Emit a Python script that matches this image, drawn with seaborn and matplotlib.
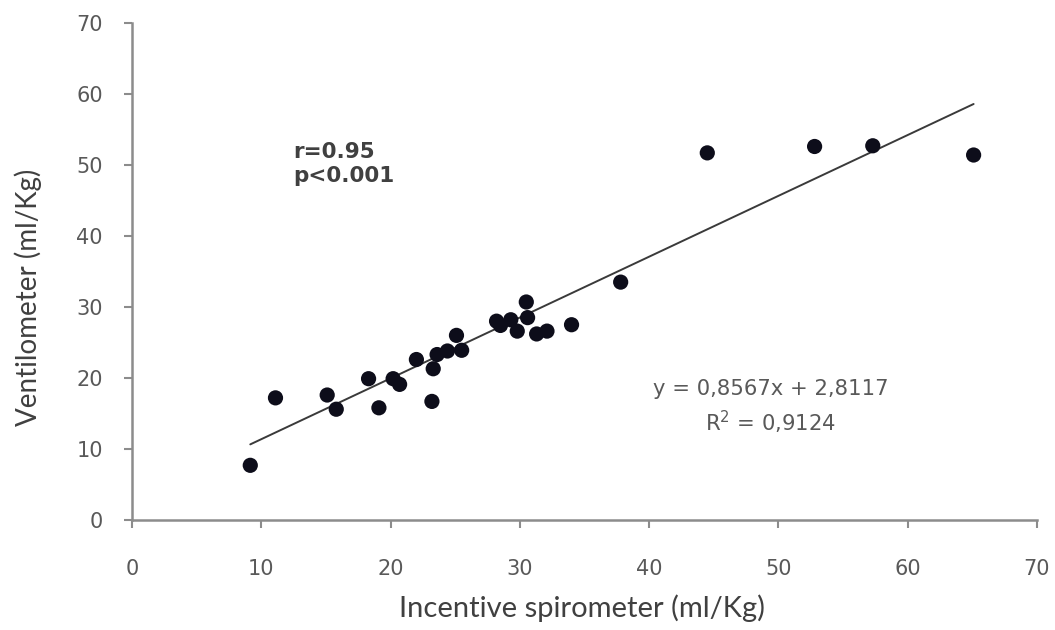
"""Ventilometer vs incentive spirometer scatter with linear trend line."""

import matplotlib
matplotlib.use("Agg")
import matplotlib.pyplot as plt
import numpy as np
import pandas as pd
import seaborn as sns


# values (ml/Kg)
spirometer = [
    9.15, 11.1, 15.1, 15.8, 18.3, 19.1, 20.2, 20.7, 22.0, 23.2,
    23.3, 23.6, 24.4, 25.1, 25.5, 28.2, 28.5, 29.3, 29.8, 30.5,
    30.6, 31.3, 32.1, 34.0, 37.8, 44.5, 52.8, 57.3, 65.1,
]
ventilometer = [
    7.7, 17.2, 17.6, 15.6, 19.9, 15.8, 19.9, 19.1, 22.6, 16.7,
    21.3, 23.3, 23.8, 26.0, 23.9, 28.0, 27.4, 28.2, 26.6, 30.7,
    28.5, 26.2, 26.6, 27.5, 33.5, 51.7, 52.6, 52.7, 51.4,
]

slope = 0.8567
intercept = 2.8117
r2 = 0.9124
r_value = 0.95
p_text = "p<0.001"

x_ticks = [0, 10, 20, 30, 40, 50, 60, 70]
y_ticks = [0, 10, 20, 30, 40, 50, 60, 70]

AXIS_GREY = "#8c8c8c"
TEXT_GREY = "#404040"


def main() -> None:
    sns.set_theme(style="white")
    plt.rcParams["font.family"] = ["Lato", "DejaVu Sans"]

    df = pd.DataFrame({"spirometer": spirometer, "ventilometer": ventilometer})

    fig = plt.figure(figsize=(10.55, 6.3), dpi=100)
    ax = fig.add_axes([0.1251, 0.1746, 0.8578, 0.789])

    line_x = np.array([df["spirometer"].min(), df["spirometer"].max()])
    ax.plot(line_x, slope * line_x + intercept, color="#3a3a3a", linewidth=1.4, zorder=2)

    sns.scatterplot(data=df, x="spirometer", y="ventilometer", ax=ax,
                    color="#0d0d1a", s=120, edgecolor="none", zorder=3)

    ax.set_xlim(0, 70)
    ax.set_ylim(0, 70)
    ax.set_xticks(x_ticks)
    ax.set_yticks(y_ticks)
    ax.tick_params(axis="both", which="major", direction="out", length=6, width=1.5,
                   color=AXIS_GREY, labelsize=15, labelcolor="#595959",
                   bottom=True, left=True)
    ax.tick_params(axis="x", pad=22)
    ax.tick_params(axis="y", pad=15)
    for lbl in ax.get_xticklabels() + ax.get_yticklabels():
        lbl.set_family(["DejaVu Sans"])
    for side in ("top", "right"):
        ax.spines[side].set_visible(False)
    for side in ("left", "bottom"):
        ax.spines[side].set_color(AXIS_GREY)
        ax.spines[side].set_linewidth(1.8)

    ax.set_xlabel("Incentive spirometer (ml/Kg)", fontsize=21, color=TEXT_GREY, va="center")
    ax.xaxis.set_label_coords(0.4975, -0.177)
    ax.set_ylabel("Ventilometer (ml/Kg)", fontsize=20, color=TEXT_GREY, va="center")
    ax.yaxis.set_label_coords(-0.115, 0.448)

    ax.text(12.5, 50.1, f"r={r_value:.2f}\n{p_text}", fontsize=15.5, fontweight="bold",
            color=TEXT_GREY, family=["DejaVu Sans"],
            ha="left", va="center", linespacing=1.25)

    eq = f"y = {slope:.4f}x + {intercept:.4f}".replace(".", ",")
    ax.text(49.4, 18.4, eq, fontsize=15.2, color="#595959", family=["DejaVu Sans"],
            ha="center", va="center")
    ax.text(49.4, 13.8, f"R$^2$ = {r2:.4f}".replace(".", ","), fontsize=15.2,
            color="#595959", family=["DejaVu Sans"], ha="center", va="center")

    fig.savefig("out.png", dpi=100)
    plt.close(fig)


if __name__ == "__main__":
    main()
